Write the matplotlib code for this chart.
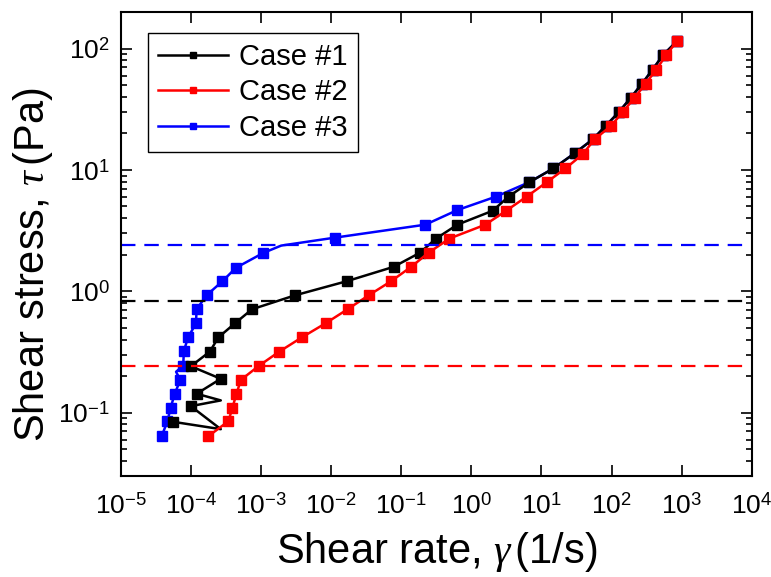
import matplotlib.pyplot as plt

plt.rcParams['font.family'] = ['Liberation Sans', 'DejaVu Sans']
plt.rcParams['mathtext.fontset'] = 'custom'
plt.rcParams['mathtext.rm'] = 'Liberation Sans'
plt.rcParams['mathtext.it'] = 'Liberation Serif:italic'

# shear rate (1/s) and shear stress (Pa) for each case
rate1 = [5.5e-5, 2.65e-4, 9.9e-5, 2.65e-4, 1.2e-4, 2.65e-4, 9.9e-5, 1.85e-4, 2.45e-4, 4.2e-4,
         7.4e-4, 3.06e-3, 0.0166, 0.0776, 0.185, 0.313, 0.63, 2.01, 3.41, 6.74,
         14.8, 29.6, 54, 82, 127, 188, 272, 385, 545, 857]
stress1 = [0.084, 0.073, 0.113, 0.126, 0.143, 0.19, 0.241, 0.318, 0.417, 0.543,
           0.711, 0.927, 1.21, 1.59, 2.08, 2.72, 3.54, 4.61, 6.04, 7.93,
           10.3, 13.7, 17.9, 23.0, 30.0, 39.4, 51.4, 67.3, 88.8, 115]
marks1 = [0, 2, 4, 5, 6, 7, 8, 9, 10, 11, 12, 13, 14, 15, 16, 17, 18, 19,
          20, 21, 22, 23, 24, 25, 26, 27, 28, 29]

rate2 = [1.77e-4, 3.41e-4, 3.89e-4, 4.44e-4, 5.13e-4, 9.36e-4, 1.81e-3, 3.81e-3, 8.4e-3, 0.0171,
         0.0349, 0.0713, 0.138, 0.245, 0.485, 1.58, 3.13, 6.17, 11.9, 22.0,
         38.9, 57.1, 96.8, 145, 213, 306, 435, 604, 857]
stress2 = [0.064, 0.085, 0.11, 0.143, 0.186, 0.244, 0.318, 0.417, 0.547, 0.711,
           0.933, 1.21, 1.59, 2.08, 2.72, 3.54, 4.61, 6.04, 7.93, 10.3,
           13.5, 17.9, 22.9, 30.1, 39.4, 51.4, 67.3, 88.8, 115]

rate3 = [3.8e-5, 4.6e-5, 5.1e-5, 5.85e-5, 7.0e-5, 6.1e-5, 7.7e-5, 7.9e-5, 9.06e-5, 1.17e-4,
         1.2e-4, 1.66e-4, 2.8e-4, 4.35e-4, 1.07e-3, 1.93e-3, 0.0114, 0.22, 0.63, 2.26,
         6.6, 14.8, 29.6, 54, 82, 127, 188, 272, 385, 545, 857]
stress3 = [0.064, 0.085, 0.11, 0.143, 0.186, 0.217, 0.244, 0.324, 0.417, 0.543,
           0.711, 0.927, 1.21, 1.56, 2.07, 2.38, 2.77, 3.54, 4.67, 6.04,
           7.9, 10.3, 13.7, 17.9, 23.0, 30.0, 39.4, 51.4, 67.3, 88.8, 115]
marks3 = [0, 1, 2, 3, 4, 6, 7, 8, 9, 10, 11, 12, 13, 14, 16, 17, 18, 19,
          20, 21, 22, 23, 24, 25, 26, 27, 28, 29, 30]

# yield stress levels (dashed)
yield_stress = [0.83, 0.243, 2.4]

fig = plt.figure(figsize=(7.71, 5.77), dpi=100)
ax = fig.add_axes([0.157, 0.175, 0.818, 0.804])

# blue drawn first, red on top (as in the original)
l3, = ax.plot(rate3, stress3, color='blue', lw=1.8, marker='s', ms=7, markevery=marks3, label='Case #3')
l1, = ax.plot(rate1, stress1, color='black', lw=1.8, marker='s', ms=7, markevery=marks1, label='Case #1')
l2, = ax.plot(rate2, stress2, color='red', lw=1.8, marker='s', ms=7, label='Case #2')

for ys, c in zip(yield_stress, ['black', 'red', 'blue']):
    ax.axhline(ys, color=c, lw=1.6, linestyle=(0, (6.5, 4)))

ax.set_xscale('log')
ax.set_yscale('log')
ax.set_xlim(1e-5, 1e4)
ax.set_ylim(0.03, 200)
ax.set_xticks([10.0 ** k for k in range(-5, 5)])
ax.set_xticklabels([r'$10^{%d}$' % k for k in range(-5, 5)])
ax.set_yticks([0.1, 1, 10, 100])
ax.set_yticklabels([r'$10^{%d}$' % k for k in range(-1, 3)])

ax.tick_params(which='both', direction='in', top=True, right=True, width=1.2, labelsize=19)
ax.tick_params(which='major', length=8)
ax.tick_params(which='minor', length=4)
ax.tick_params(axis='x', pad=12)
ax.tick_params(axis='y', pad=8)
for s in ax.spines.values():
    s.set_linewidth(1.5)

ax.set_xlabel(r'Shear rate, $\gamma\,$(1/s)', fontsize=30, labelpad=8)
ax.set_ylabel(r'Shear stress, $\tau\,$(Pa)', fontsize=30)
ax.yaxis.set_label_coords(-0.105, 0.455)

leg = ax.legend(handles=[l1, l2, l3], loc='upper left', bbox_to_anchor=(0.042, 0.955), fontsize=21,
                markerscale=0.7, handlelength=2.4, labelspacing=0.25, borderaxespad=0, fancybox=False,
                framealpha=1, edgecolor='black', borderpad=0.35, handletextpad=0.4)
leg.get_frame().set_linewidth(1.0)

fig.savefig('out.png', dpi=100)
